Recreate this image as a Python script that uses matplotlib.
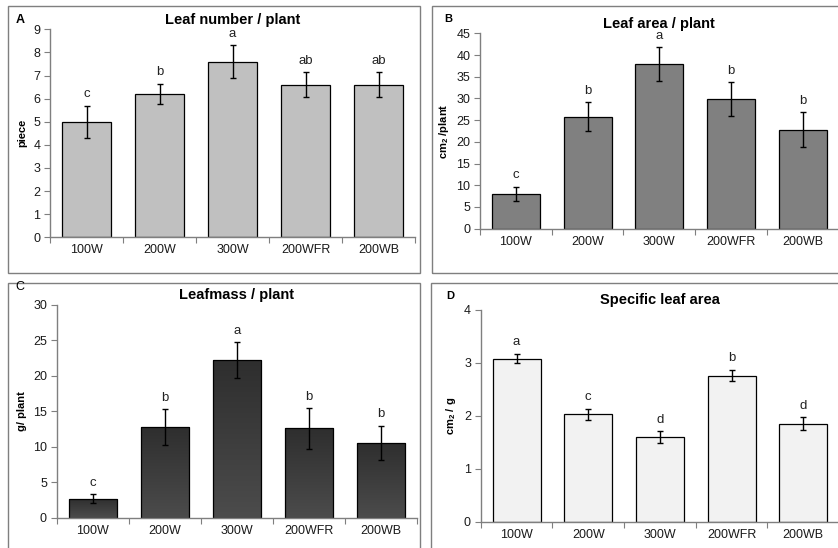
import numpy as np
import matplotlib
matplotlib.use("Agg")
from matplotlib import pyplot as plt
from matplotlib.patches import Rectangle

plt.rcParams['font.family'] = ['Liberation Sans', 'DejaVu Sans']
plt.rcParams['mathtext.fontset'] = 'custom'
plt.rcParams['mathtext.rm'] = 'Liberation Sans'
plt.rcParams['mathtext.bf'] = 'Liberation Sans:bold'

categories = ["100W", "200W", "300W", "200WFR", "200WB"]

# panel A: leaf number
leafNum = [5.0, 6.2, 7.6, 6.6, 6.6]
leafNumErr = [0.7, 0.45, 0.7, 0.55, 0.55]
leafNumLetters = ["c", "b", "a", "ab", "ab"]

# panel B: leaf area
leafArea = [8.0, 25.8, 37.9, 29.8, 22.8]
leafAreaErr = [1.6, 3.3, 3.9, 3.9, 4.0]
leafAreaLetters = ["c", "b", "a", "b", "b"]

# panel C: leaf mass
leafMass = [2.7, 12.75, 22.2, 12.6, 10.6]
leafMassErr = [0.65, 2.55, 2.5, 2.85, 2.4]
leafMassLetters = ["c", "b", "a", "b", "b"]

# panel D: specific leaf area
sla = [3.08, 2.03, 1.60, 2.76, 1.85]
slaErr = [0.09, 0.10, 0.11, 0.11, 0.12]
slaLetters = ["a", "c", "d", "b", "d"]

W, H = 838, 548
fig = plt.figure(figsize=(W / 100, H / 100), dpi=100)


def px_axes(left, right, top, bottom):
    return fig.add_axes([left / W, 1 - bottom / H, (right - left) / W, (bottom - top) / H])


def box(x0, y0, x1, y1):
    fig.patches.append(Rectangle((x0 / W, 1 - y1 / H), (x1 - x0) / W, (y1 - y0) / H,
                                 transform=fig.transFigure, fill=False,
                                 edgecolor="#7f7f7f", linewidth=1.0))


# panel frames
box(7.5, 6, 419.5, 272.5)
box(431.5, 6, 845, 272.5)
box(7.5, 283, 419.5, 560)
box(431, 283, 845, 560)


def panel(ax, vals, errs, letters, color, ymax, ystep, title, ylabel, gradient=False):
    x = np.arange(len(categories)) + 0.5
    bars = ax.bar(x, vals, width=0.67, color=color, edgecolor="black", linewidth=0.9, zorder=2)
    if gradient:
        grad = np.linspace(0, 1, 256).reshape(-1, 1)
        cmap = matplotlib.colors.LinearSegmentedColormap.from_list("g", ["#4c4c4c", "#2e2e2e"])
        for b in bars:
            b.set_facecolor("none")
            im = ax.imshow(grad, cmap=cmap, aspect="auto", origin="lower",
                           extent=[b.get_x(), b.get_x() + b.get_width(), 0, b.get_height()],
                           zorder=1.5)
            im.set_clip_path(b)
    ax.errorbar(x, vals, yerr=errs, fmt="none", ecolor="black", elinewidth=1.0,
                capsize=2.5, capthick=1.0, zorder=3)
    for xi, v, e, l in zip(x, vals, errs, letters):
        ax.annotate(l, (xi, v + e), xytext=(0, 4), textcoords="offset points",
                    ha="center", va="bottom", fontsize=9.5, color="#222222")
    ax.set_xlim(0, len(categories))
    ax.set_ylim(0, ymax)
    ax.set_yticks(np.arange(0, ymax + ystep / 2, ystep))
    ax.set_xticks(np.arange(len(categories) + 1))
    ax.set_xticklabels([])
    ax.set_xticks(x, minor=True)
    ax.set_xticklabels(categories, minor=True)
    ax.tick_params(axis="x", which="major", length=4, direction="out", color="#7f7f7f")
    ax.tick_params(axis="x", which="minor", length=0, pad=5, labelsize=9, labelcolor="#1a1a1a")
    ax.tick_params(axis="y", length=4, direction="out", color="#7f7f7f", labelsize=9,
                   labelcolor="#1a1a1a", pad=3)
    for s in ["top", "right"]:
        ax.spines[s].set_visible(False)
    for s in ["left", "bottom"]:
        ax.spines[s].set_color("#7f7f7f")
        ax.spines[s].set_linewidth(1.0)
    ax.set_title(title, fontsize=10.5, fontweight="bold", pad=4)
    ax.set_ylabel(ylabel, fontsize=8, fontweight="bold", labelpad=4)


axA = px_axes(50, 415, 29.3, 237.3)
panel(axA, leafNum, leafNumErr, leafNumLetters, "#c0c0c0", 9, 1,
      "Leaf number / plant", "piece")
axB = px_axes(480, 838.5, 33.3, 228.7)
panel(axB, leafArea, leafAreaErr, leafAreaLetters, "#808080", 45, 5,
      "Leaf area / plant", r"cm$\mathbf{_2}$ /plant")
axC = px_axes(56.7, 416.7, 304.7, 518)
panel(axC, leafMass, leafMassErr, leafMassLetters, "#3a3a3a", 30, 5,
      "Leafmass / plant", "g/ plant", gradient=True)
axD = px_axes(480.7, 839, 310, 521.7)
panel(axD, sla, slaErr, slaLetters, "#f2f2f2", 4, 1,
      "Specific leaf area", r"cm$\mathbf{_2}$ / g")

# panel letters
fig.text(20 / W, 1 - 20 / H, "A", fontsize=9, fontweight="bold", ha="center", va="center")
fig.text(448 / W, 1 - 19 / H, "B", fontsize=8, fontweight="bold", ha="center", va="center")
fig.text(20 / W, 1 - 287 / H, "C", fontsize=9, ha="center", va="center")
fig.text(450 / W, 1 - 296 / H, "D", fontsize=8, fontweight="bold", ha="center", va="center")

fig.savefig("out.png", dpi=100)
